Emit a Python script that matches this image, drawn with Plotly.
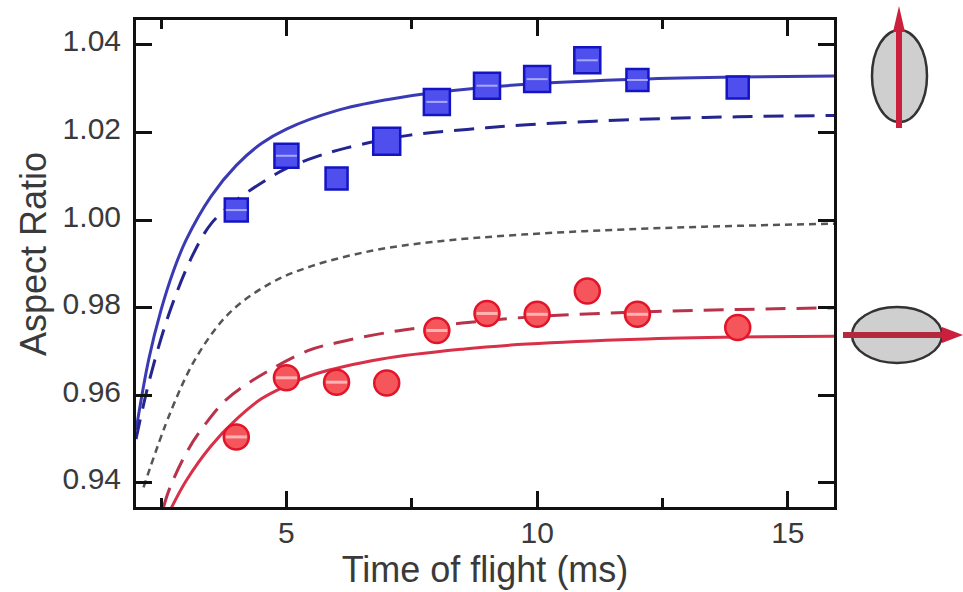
import plotly.graph_objects as go

# Measured data
tof = [4, 5, 6, 7, 8, 9, 10, 11, 12, 14]
blue_pts = [1.0023, 1.0147, 1.0095, 1.0180, 1.0270, 1.0307, 1.0322, 1.0365, 1.0320, 1.0303]
blue_err = [0.0015, 0.0025, 0.0008, 0.0012, 0.0015, 0.0022, 0.0020, 0.0025, 0.0015, 0.0012]
blue_size = [23, 24, 22, 27, 26, 26, 26, 26, 22, 22]
red_pts = [0.9505, 0.9640, 0.9630, 0.9628, 0.9748, 0.9787, 0.9785, 0.9838, 0.9785, 0.9755]
red_err = [0.0030, 0.0030, 0.0030, 0.0005, 0.0030, 0.0030, 0.0030, 0.0005, 0.0030, 0.0008]

# Fit curves
blue_solid_x = [2.0, 2.25, 2.5, 2.75, 3.0, 3.5, 4.0, 4.5, 5.0, 6.0, 7.0, 8.0, 10, 12, 14, 16]
blue_solid_y = [0.952, 0.968, 0.9795, 0.9885, 0.9955, 1.0055, 1.0125, 1.0175, 1.0208, 1.0250, 1.0275, 1.0292, 1.0312, 1.0322, 1.0327, 1.0329]
blue_dash_x = [2.0, 2.28, 2.67, 3.13, 3.5, 4.0, 4.5, 5.0, 5.6, 6.2, 7.4, 8.6, 9.8, 12, 14, 16]
blue_dash_y = [0.950, 0.964, 0.979, 0.992, 0.9992, 1.0045, 1.0085, 1.0118, 1.0145, 1.0165, 1.0193, 1.0207, 1.0218, 1.023, 1.0236, 1.0239]
gray_x = [2.15, 2.7, 3.22, 3.88, 4.7, 5.5, 6.7, 7.9, 9.7, 12, 14, 16]
gray_y = [0.939, 0.9565, 0.969, 0.979, 0.9857, 0.9895, 0.993, 0.995, 0.9967, 0.998, 0.9987, 0.9992]
red_dash_x = [2.55, 2.68, 3.04, 3.42, 3.8, 4.35, 5.43, 6.0, 7.2, 8.5, 10, 12, 14, 16]
red_dash_y = [0.9345, 0.939, 0.9476, 0.954, 0.959, 0.9636, 0.9702, 0.972, 0.9747, 0.9765, 0.978, 0.979, 0.9796, 0.98]
red_solid_x = [2.67, 3.0, 3.5, 4.0, 4.5, 5.0, 5.56, 6.9, 8.55, 9.8, 12, 14, 16]
red_solid_y = [0.9335, 0.9405, 0.9485, 0.9545, 0.9592, 0.9622, 0.9648, 0.9683, 0.9706, 0.9717, 0.9728, 0.9733, 0.9735]

x_ticks = [5, 10, 15]
y_ticks = [0.94, 0.96, 0.98, 1.00, 1.02, 1.04]
y_labels = ["0.94", "0.96", "0.98", "1.00", "1.02", "1.04"]

BLUE = "#3a3ab4"
RED = "#d83048"
TXT = "#3a3a3a"
FONT = "Liberation Sans, Arial, sans-serif"
L, R, T, B = 136, 834, 20, 507

def px(x):
    return (x - L) / (R - L)

def py(y):
    return (B - y) / (B - T)

fig = go.Figure()

def curve(x, y, color, dash, width):
    fig.add_trace(go.Scatter(x=x, y=y, mode="lines", showlegend=False,
                             line=dict(color=color, width=width, dash=dash, shape="spline", smoothing=1)))

curve(blue_solid_x, blue_solid_y, BLUE, "solid", 3)
curve(blue_dash_x, blue_dash_y, "#25258f", "20px,11px", 3)
curve(gray_x, gray_y, "#555555", "7px,5px", 2.5)
curve(red_dash_x, red_dash_y, "#b8324a", "20px,11px", 3)
curve(red_solid_x, red_solid_y, RED, "solid", 3)

fig.add_trace(go.Scatter(x=tof, y=blue_pts, mode="markers", showlegend=False, cliponaxis=False,
                         error_y=dict(type="data", array=blue_err, color="#1414a8", thickness=2, width=0),
                         marker=dict(symbol="square", size=blue_size, color="#4f4fee", opacity=1,
                                     line=dict(color="#1414c4", width=2.5))))
fig.add_trace(go.Scatter(x=tof, y=red_pts, mode="markers", showlegend=False, cliponaxis=False,
                         error_y=dict(type="data", array=red_err, color="#c8102a", thickness=2, width=0),
                         marker=dict(symbol="circle", size=25, color="#f4565c", opacity=1,
                                     line=dict(color="#e2142a", width=2.5))))
# Light inner bars seen on the symbols with visible error bars
fig.add_trace(go.Scatter(x=[t for t, e in zip(tof, blue_err) if e >= 0.0015],
                         y=[v for v, e in zip(blue_pts, blue_err) if e >= 0.0015],
                         mode="markers", showlegend=False,
                         marker=dict(symbol="line-ew", size=15, opacity=1, line=dict(color="#a8a8ff", width=2))))
fig.add_trace(go.Scatter(x=[t for t, e in zip(tof, red_err) if e >= 0.001],
                         y=[v for v, e in zip(red_pts, red_err) if e >= 0.001],
                         mode="markers", showlegend=False,
                         marker=dict(symbol="line-ew", size=15, opacity=1, line=dict(color="#ffb4b4", width=3))))

def box(x0, y0, x1, y1):
    return dict(xref="paper", yref="paper", x0=px(x0), x1=px(x1), y0=py(y0), y1=py(y1))

def tri(points):
    coords = [f"{px(a):.5f},{py(b):.5f}" for a, b in points]
    return "M" + " L".join(coords) + " Z"

CRIM = "#cc1f3e"
shapes = [
    dict(type="circle", fillcolor="#cfcfcf", line=dict(color="#333333", width=2.5), layer="above", **box(872, 30, 927, 122)),
    dict(type="circle", fillcolor="#cfcfcf", line=dict(color="#333333", width=2.5), layer="above", **box(852, 307, 942, 363)),
    dict(type="rect", fillcolor=CRIM, line=dict(width=0), layer="above", **box(896, 28, 902, 128)),
    dict(type="path", xref="paper", yref="paper", path=tri([(893, 32), (905, 32), (899, 6)]),
         fillcolor=CRIM, line=dict(width=0), layer="above"),
    dict(type="rect", fillcolor="#b32a3c", line=dict(width=0), layer="above", **box(843, 332, 946, 338)),
    dict(type="path", xref="paper", yref="paper", path=tri([(942, 327), (942, 343), (963, 335)]),
         fillcolor=CRIM, line=dict(width=0), layer="above"),
]

fig.update_layout(
    width=963, height=592, autosize=False,
    margin=dict(l=L, r=963 - R, t=T, b=592 - B),
    paper_bgcolor="white", plot_bgcolor="white",
    font=dict(family=FONT, size=26, color=TXT),
    showlegend=False, shapes=shapes,
    annotations=[dict(text="Aspect Ratio", xref="paper", yref="paper", x=px(33), y=py(254), textangle=-90,
                      showarrow=False, xanchor="center", yanchor="middle",
                      font=dict(family=FONT, size=36, color=TXT))],
    xaxis=dict(range=[2.0, 15.92], tickvals=x_ticks, ticktext=[str(v) for v in x_ticks],
               ticks="inside", ticklen=16, tickwidth=3, tickcolor="#111111", ticklabelstandoff=-3,
               minor=dict(tickvals=[2.5, 7.5, 12.5], ticks="inside", ticklen=9, tickwidth=3, tickcolor="#111111"),
               showline=True, linewidth=3, linecolor="#111111", mirror="ticks", showgrid=False, zeroline=False,
               tickfont=dict(family=FONT, size=30, color=TXT),
               title=dict(text="Time of flight (ms)", standoff=4, font=dict(family=FONT, size=36, color=TXT))),
    yaxis=dict(range=[0.9345, 1.0457], tickvals=y_ticks, ticktext=y_labels,
               ticks="inside", ticklen=16, tickwidth=3, tickcolor="#111111", ticklabelstandoff=6, ticklabelshift=-4,
               showline=True, linewidth=3, linecolor="#111111", mirror="ticks", showgrid=False, zeroline=False,
               tickfont=dict(family=FONT, size=30, color=TXT)),
)

fig.write_html("out.html", config={"displayModeBar": False}, post_script="document.body.style.margin='0';")
